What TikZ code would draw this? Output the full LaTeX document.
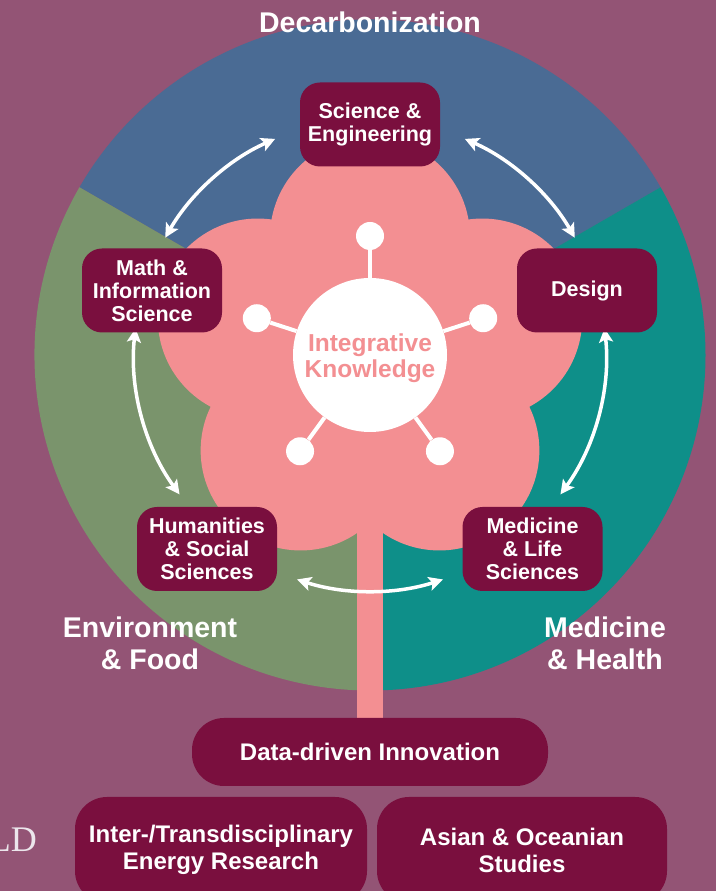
\documentclass[tikz,border=0pt]{standalone}
\usepackage{fontspec}
\setmainfont{Liberation Sans}
\newfontfamily\serifL{Liberation Serif}
\usetikzlibrary{arrows.meta,calc}
\definecolor{bgc}{RGB}{147,84,117}
\definecolor{bluec}{RGB}{74,107,148}
\definecolor{greenc}{RGB}{122,148,108}
\definecolor{tealc}{RGB}{14,143,137}
\definecolor{pinkc}{RGB}{243,143,146}
\definecolor{maroonc}{RGB}{122,15,62}
\definecolor{ldc}{RGB}{236,230,236}
\begin{document}
\begin{tikzpicture}[x=1pt,y=1pt,
 box/.style={fill=maroonc, rounded corners=20pt, minimum width=140pt, minimum height=84pt, text=white, font=\bfseries\fontsize{21.5}{23}\selectfont, align=center, inner sep=0pt},
 pill/.style={fill=maroonc, rounded corners=32pt, text=white, font=\bfseries\fontsize{24}{27}\selectfont, align=center, inner sep=0pt},
 arr/.style={draw=white, line width=3.5pt, {Stealth[length=14pt,width=14pt,inset=3pt]}-{Stealth[length=14pt,width=14pt,inset=3pt]}},
 lbl/.style={text=white, font=\bfseries\fontsize{28.5}{32}\selectfont, align=center, inner sep=0pt},
 sat/.style={circle, fill=white, minimum size=28pt, inner sep=0pt}]
\useasboundingbox (0,0) rectangle (716,891);
\clip (0,0) rectangle (716,891);
\fill[bgc] (0,0) rectangle (716,891);
\coordinate (C) at (370,536);
% sectors
\fill[bluec] (C) -- ++(30:335.5) arc[start angle=30,end angle=150,radius=335.5] -- cycle;
\fill[greenc] (C) -- ++(150:335.5) arc[start angle=150,end angle=270,radius=335.5] -- cycle;
\fill[tealc] (C) -- ++(270:335.5) arc[start angle=270,end angle=390,radius=335.5] -- cycle;
% stem
\fill[pinkc] (357,173) rectangle (383,420);
% flower
\fill[pinkc] (C) circle[radius=118];
\foreach \a in {90,162,234,306,18}{
  \fill[pinkc] (C) ++(\a:118) circle[radius=100];
}
% center circle and satellites
\node[circle, fill=white, minimum size=154pt, inner sep=0pt] (ik) at (C) {};
\foreach \a/\n in {90/s1,162/s2,234/s3,306/s4,18/s5}{
  \node[sat] (\n) at ($(C)+(\a:119)$) {};
  \draw[white, line width=4pt] (ik.\a) -- (\n);
}
\node[text=pinkc, font=\bfseries\fontsize{24.5}{25.7}\selectfont, align=center] (iktext) at ($(C)+(0,-3)$) {Integrative\\Knowledge};
% arrows
\draw[arr] ([shift={(113.7:236)}]C) arc[start angle=113.7, end angle=150.2, radius=236];
\draw[arr] ([shift={(66.3:236)}]C) arc[start angle=66.3, end angle=29.8, radius=236];
\draw[arr] ([shift={(173.5:236)}]C) arc[start angle=173.5, end angle=216.2, radius=236];
\draw[arr] ([shift={(6.5:236)}]C) arc[start angle=6.5, end angle=-36.2, radius=236];
\draw[arr] ([shift={(252:236)}]C) arc[start angle=252, end angle=288, radius=236];
% boxes
\node[box] (sci) at (370,766.5) {Science \&\\Engineering};
\node[box] (math) at (152,600.5) {Math \&\\Information\\Science};
\node[box] (des) at (587,600.5) {Design};
\node[box] (hum) at (207,342) {Humanities\\\& Social\\Sciences};
\node[box] (med) at (532.5,342) {Medicine\\\& Life\\Sciences};
% bottom pills
\node[pill, minimum width=356pt, minimum height=68pt] (ddi) at (370,139) {Data-driven Innovation};
\node[pill, minimum width=292pt, minimum height=106pt] (inter) at (221,41) {Inter-/Transdisciplinary\\Energy Research};
\node[pill, minimum width=290pt, minimum height=106pt] (asian) at (522,41) {Asian \& Oceanian\\Studies};
% labels
\node[lbl, anchor=base] (decarb) at (370,858) {Decarbonization};
\node[lbl] (env) at (150,248) {Environment\\\& Food};
\node[lbl] (medh) at (605,248) {Medicine\\\& Health};
\node[anchor=base east, text=ldc, font=\serifL\fontsize{36}{36}\selectfont, inner sep=0pt] (ld) at (37,39) {LD};
\end{tikzpicture}
\end{document}
